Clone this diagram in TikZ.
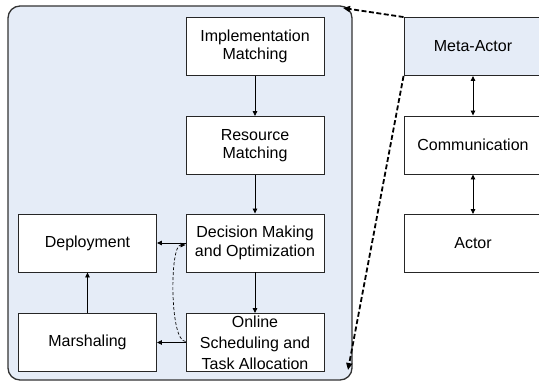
\documentclass[tikz,border=0pt]{standalone}
\usepackage{fontspec}
\setmainfont{Liberation Sans}
\usetikzlibrary{positioning, arrows.meta}
\definecolor{paneblue}{RGB}{229,236,247}
\tikzset{blk/.style={draw=black!85, line width=0.9pt, fill=white, minimum width=138pt, minimum height=58pt, inner sep=2pt, align=center, font=\fontsize{16}{18.5}\selectfont},
  flow/.style={-{Triangle[length=5pt,width=4.5pt]}, line width=0.8pt},
  link/.style={line width=1.8pt, dash pattern=on 5pt off 2.5pt, -{Triangle[length=7pt,width=6pt]}}}

\begin{document}
\begin{tikzpicture}[x=1pt,y=1pt]
    \useasboundingbox (0,0) rectangle (539,-385);
    \node[draw=black!80, line width=1.3pt, fill=paneblue, rounded corners=12pt, minimum width=344pt, minimum height=374pt, inner sep=0pt] (pane) at (180,-193) {};

    \node[blk] (impl) at (255,-46.5) {Implementation\\Matching};
    \node[blk] (res) at (255,-145.5) {Resource\\Matching};
    \node[blk] (dec) at (255,-243) {Decision Making\\and Optimization};
    \node[blk, font=\fontsize{16}{21}\selectfont] (onl) at (255,-342.5) {Online\\Scheduling and\\Task Allocation};
    \node[blk] (dep) at (87.5,-243) {Deployment};
    \node[blk] (mar) at (87.5,-342.5) {Marshaling};

    \node[blk, fill=paneblue] (meta) at (473,-46.5) {Meta-Actor};
    \node[blk] (comm) at (473,-145) {Communication};
    \node[blk] (act) at (473,-243.5) {Actor};

    \draw[flow] (impl) -- (res);
    \draw[flow] (res) -- (dec);
    \draw[flow] (dec) -- (onl);
    \draw[flow] (dec) -- (dep);
    \draw[flow] (onl) -- (mar);
    \draw[flow] (mar) -- (dep);
    \draw[flow, line width=0.7pt, dash pattern=on 3pt off 2pt] ([yshift=1pt]onl.west) .. controls +(-16,0) and +(-16,0) .. ([yshift=-2pt]dec.west);

    \draw[flow, {Triangle[length=5pt,width=4.5pt]}-{Triangle[length=5pt,width=4.5pt]}] (meta) -- (comm);
    \draw[flow, {Triangle[length=5pt,width=4.5pt]}-{Triangle[length=5pt,width=4.5pt]}] (comm) -- (act);

    \coordinate (ptop) at (343,-8);
    \coordinate (pbot) at (348,-370);
    \draw[link] (meta.north west) -- (ptop);
    \draw[link] (meta.south west) -- (pbot);
\end{tikzpicture}
\end{document}
